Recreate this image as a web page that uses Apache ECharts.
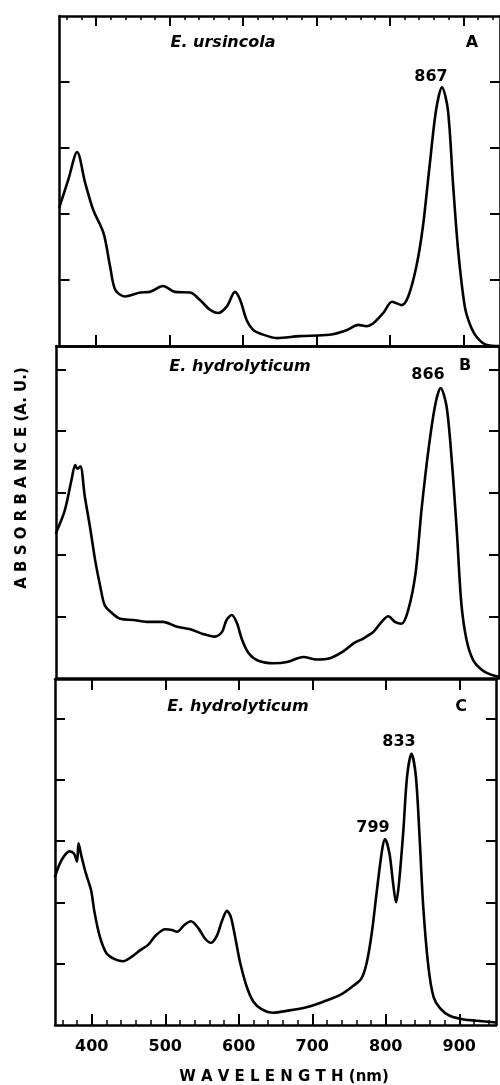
<!DOCTYPE html>
<html>
<head>
<meta charset="utf-8">
<script src="https://cdn.jsdelivr.net/npm/echarts@6/dist/echarts.min.js"></script>
<style>
html,body{margin:0;padding:0;background:#fff;}
#chart{width:500px;height:1085px;}
</style>
</head>
<body>
<div id="chart"></div>
<script>
// ---- data (wavelength nm, absorbance a.u.) ----
const wlA = [350, 362, 374, 385, 396, 410, 419, 426, 439, 460, 473, 491, 507, 528, 541, 555, 566, 578, 589, 596, 605, 614, 623, 646, 677, 718, 741, 757, 768, 777, 791, 803, 816, 825, 836, 845, 854, 863, 871, 879, 886, 893, 902, 909, 918, 931, 950];
const absA = [2.11, 2.52, 2.94, 2.47, 2.06, 1.71, 1.20, 0.85, 0.75, 0.81, 0.82, 0.91, 0.82, 0.81, 0.70, 0.55, 0.50, 0.60, 0.82, 0.70, 0.39, 0.24, 0.19, 0.12, 0.15, 0.17, 0.24, 0.32, 0.30, 0.34, 0.50, 0.67, 0.62, 0.75, 1.20, 1.81, 2.72, 3.58, 3.92, 3.58, 2.46, 1.45, 0.60, 0.33, 0.14, 0.02, 0.00];

const wlB = [350, 362, 371, 376, 379, 383, 389, 396, 403, 410, 416, 426, 437, 455, 473, 495, 514, 532, 550, 565, 575, 581, 588, 595, 602, 611, 624, 645, 663, 685, 703, 721, 739, 753, 766, 780, 791, 800, 809, 818, 827, 837, 845, 855, 864, 871, 879, 886, 893, 899, 906, 915, 927, 940, 950];
const absB = [2.35, 2.72, 3.21, 3.45, 3.39, 3.43, 2.94, 2.45, 1.91, 1.48, 1.18, 1.05, 0.96, 0.94, 0.91, 0.91, 0.83, 0.79, 0.71, 0.67, 0.75, 0.94, 1.02, 0.89, 0.62, 0.40, 0.28, 0.24, 0.26, 0.34, 0.30, 0.32, 0.43, 0.56, 0.64, 0.75, 0.91, 1.00, 0.91, 0.88, 1.10, 1.70, 2.72, 3.75, 4.45, 4.70, 4.40, 3.53, 2.35, 1.21, 0.62, 0.29, 0.13, 0.05, 0.02];

const wlC = [350, 359, 370, 376, 380, 382, 386, 392, 399, 404, 411, 420, 432, 443, 454, 466, 477, 488, 500, 509, 516, 526, 535, 545, 554, 562, 570, 577, 584, 589, 595, 602, 611, 620, 631, 647, 665, 692, 715, 738, 756, 767, 774, 781, 788, 795, 799, 805, 810, 814, 818, 824, 829, 835, 841, 846, 851, 858, 865, 874, 887, 906, 924, 950];
const absC = [2.42, 2.69, 2.83, 2.79, 2.66, 2.96, 2.75, 2.47, 2.20, 1.82, 1.44, 1.17, 1.07, 1.04, 1.11, 1.22, 1.31, 1.47, 1.56, 1.55, 1.52, 1.63, 1.69, 1.58, 1.41, 1.34, 1.45, 1.69, 1.86, 1.77, 1.44, 1.01, 0.62, 0.38, 0.26, 0.20, 0.23, 0.29, 0.38, 0.49, 0.64, 0.76, 1.01, 1.50, 2.20, 2.85, 3.03, 2.80, 2.31, 2.00, 2.31, 3.18, 4.05, 4.42, 4.05, 3.07, 1.93, 0.95, 0.46, 0.27, 0.15, 0.09, 0.07, 0.04];

const xMajorTicks = [400, 500, 600, 700, 800, 900];
const xMinorTicks = [360, 380, 420, 440, 460, 480, 520, 540, 560, 580, 620, 640, 660, 680, 720, 740, 760, 780, 820, 840, 860, 880, 920, 940];
const xTickLabels = ['400', '500', '600', '700', '800', '900'];
const yTicksA = [1, 2, 3, 4];
const yTicksB = [1, 2, 3, 4, 5];
const yTicksC = [1, 2, 3, 4, 5];

const panelTitles = ['E. ursincola', 'E. hydrolyticum', 'E. hydrolyticum'];
const panelLetters = ['A', 'B', 'C'];
const peakLabels = ['867', '866', '833', '799'];
const xAxisTitle = 'W A V E L E N G T H (nm)';
const yAxisTitle = 'A B S O R B A N C E (A. U.)';

// ---- layout ----
const FONT = '"DejaVu Sans", "Liberation Sans", sans-serif';
const LW = 2.5;
const grids = [
  {left: 59.5, top: 16, width: 440.5, height: 330},
  {left: 56, top: 346, width: 443, height: 332},
  {left: 55, top: 679, width: 441, height: 346}
];
const yMax = [5.0, 5.38, 5.64];

function xAx(grid, pos, opts) {
  const o = {
    type: 'value', gridIndex: grid, position: pos, min: 350, max: 950,
    axisLine: {show: opts.line !== false, onZero: false, lineStyle: {color: '#000', width: LW}},
    axisTick: {show: !!opts.ticks, inside: true, length: opts.len || 10,
      customValues: opts.ticks, lineStyle: {color: '#000', width: opts.tw || 2}},
    axisLabel: {show: false},
    splitLine: {show: false}
  };
  if (opts.labels) {
    o.axisLabel = {show: true, customValues: xMajorTicks, margin: 14,
      formatter: v => xTickLabels[xMajorTicks.indexOf(v)] || '',
      color: '#000', fontSize: 16, fontWeight: 'bold', fontFamily: FONT};
  }
  return o;
}
function yAx(grid, pos, ticks, max) {
  return {
    type: 'value', gridIndex: grid, position: pos, min: 0, max: max,
    axisLine: {show: true, onZero: false, lineStyle: {color: '#000', width: LW}},
    axisTick: {show: true, inside: true, length: 10, customValues: ticks,
      lineStyle: {color: '#000', width: 2}},
    axisLabel: {show: false},
    splitLine: {show: false}
  };
}

const xAxes = [
  xAx(0, 'bottom', {ticks: xMajorTicks, len: 11}),          // 0
  xAx(0, 'top', {ticks: xMajorTicks, len: 10}),             // 1
  xAx(0, 'top', {line: false, ticks: xMinorTicks, len: 4, tw: 1.5}), // 2
  xAx(1, 'bottom', {}),                                      // 3
  xAx(1, 'top', {}),                                         // 4
  xAx(2, 'top', {ticks: xMajorTicks, len: 11}),             // 5
  xAx(2, 'bottom', {ticks: xMajorTicks, len: 11, labels: true}), // 6
  xAx(2, 'bottom', {line: false, ticks: xMinorTicks, len: 5, tw: 1.5}) // 7
];
const yAxes = [
  yAx(0, 'left', yTicksA, yMax[0]), yAx(0, 'right', yTicksA, yMax[0]),
  yAx(1, 'left', yTicksB, yMax[1]), yAx(1, 'right', yTicksB, yMax[1]),
  yAx(2, 'left', yTicksC, yMax[2]), yAx(2, 'right', yTicksC, yMax[2])
];

function zip(xs, ys) { return xs.map((x, i) => [x, ys[i]]); }
function lineSeries(xi, yi, xs, ys) {
  return {
    type: 'line', xAxisIndex: xi, yAxisIndex: yi, data: zip(xs, ys),
    showSymbol: false, smooth: 0.3,
    lineStyle: {color: '#000', width: 2.6, join: 'round', cap: 'round'},
    silent: true, animation: false
  };
}

function txt(x, y, text, size, italic, extra) {
  return Object.assign({
    type: 'text', x: x, y: y, silent: true,
    style: {text: text, fill: '#000', textAlign: 'center', textVerticalAlign: 'middle',
      font: (italic ? 'italic ' : '') + 'bold ' + size + 'px ' + FONT}
  }, extra || {});
}

const graphics = [
  txt(223, 43, panelTitles[0], 16, true),
  txt(472, 43, panelLetters[0], 16, false),
  txt(431, 77, peakLabels[0], 16, false),
  txt(240, 367, panelTitles[1], 16, true),
  txt(465, 366, panelLetters[1], 16, false),
  txt(428, 375, peakLabels[1], 16, false),
  txt(238, 707, panelTitles[2], 16, true),
  txt(461, 707, panelLetters[2], 16, false),
  txt(399, 742, peakLabels[2], 16, false),
  txt(373, 828, peakLabels[3], 16, false),
  txt(284, 1077, xAxisTitle, 15, false),
  txt(22, 478, yAxisTitle, 15, false, {rotation: Math.PI / 2})
];

const chart = echarts.init(document.getElementById('chart'), null, {renderer: 'canvas'});
chart.setOption({
  animation: false,
  backgroundColor: '#fff',
  grid: grids,
  xAxis: xAxes,
  yAxis: yAxes,
  series: [
    lineSeries(0, 0, wlA, absA),
    lineSeries(3, 2, wlB, absB),
    lineSeries(6, 4, wlC, absC)
  ],
  graphic: graphics
});
</script>
</body>
</html>
